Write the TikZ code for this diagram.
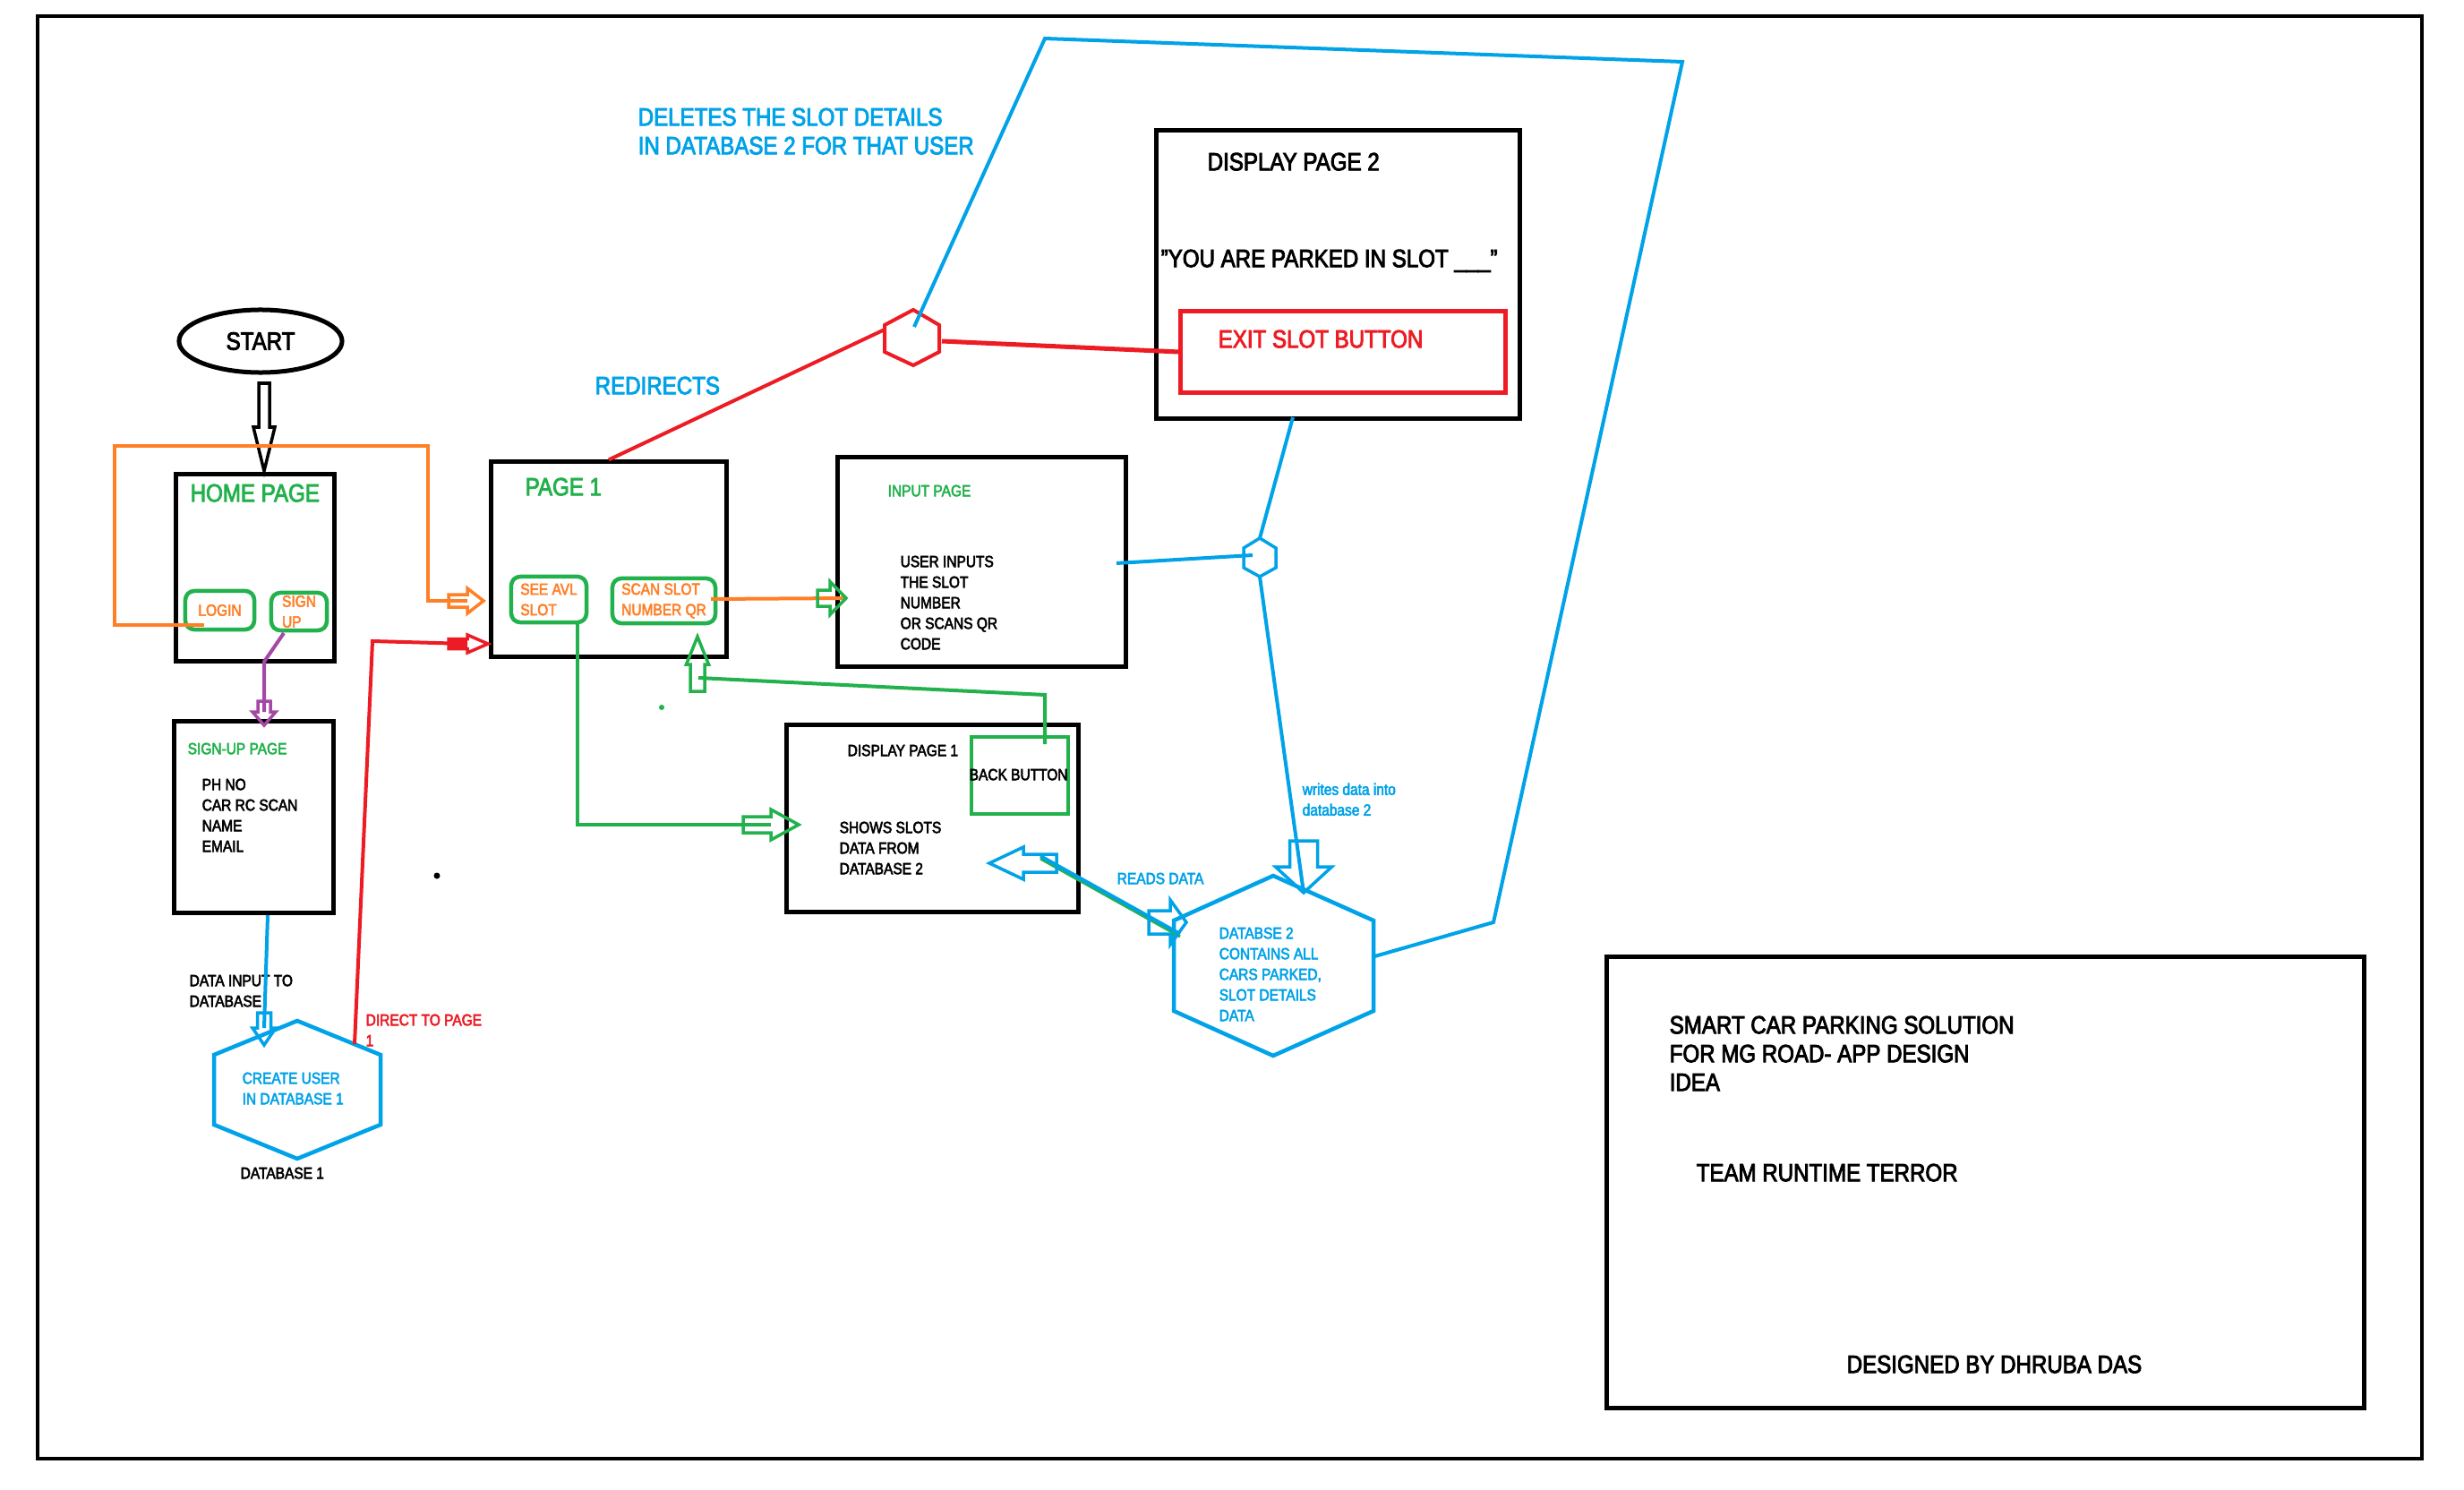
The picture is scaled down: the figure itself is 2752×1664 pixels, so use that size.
\documentclass[tikz,border=0pt]{standalone}
\usepackage{fontspec}
\setmainfont{Liberation Sans}[FakeStretch=0.86, FakeBold=3]
\usetikzlibrary{shapes.geometric,calc}
\definecolor{paintblue}{HTML}{00A2E8}
\definecolor{paintred}{HTML}{ED1C24}
\definecolor{paintgreen}{HTML}{22B14C}
\definecolor{paintorange}{HTML}{FF7F27}
\definecolor{paintpurple}{HTML}{A349A4}

\begin{document}
\begin{tikzpicture}[x=0.01cm, y=-0.01cm,
  big/.style={font=\fontsize{7.97}{9.1}\selectfont},
  small/.style={font=\fontsize{5.12}{6.54}\selectfont},
  page node/.style={draw, line width=0.05cm, inner sep=0},
  button node/.style={draw=paintgreen, line width=0.045cm, rounded corners=0.1cm, inner sep=0, align=left, text=paintorange, small},
  label node/.style={anchor=north west, inner sep=0, align=left},
  wire/.style={line width=0.04cm},
  pics/hollow arrow/.style n args={4}{code={
    \draw[pic actions, line width=0.035cm] (0,0) -- (-#2,#4) -- (-#2,#3) -- (-#1-#2,#3)
      -- (-#1-#2,-#3) -- (-#2,-#3) -- (-#2,-#4) -- cycle;
  }}]
\fill[white] (0,0) rectangle (2752,1664);
\useasboundingbox (0,0) rectangle (2752,1664);
\draw[line width=0.048cm] (42,18) rectangle (2705,1629);

\node[ellipse, draw, line width=0.05cm, minimum width=1.82cm, minimum height=0.70cm, inner sep=0, big] (start) at (291,381) {START};

\node[page node, minimum width=1.76cm, minimum height=2.08cm] (home)   at (285,634)     {};
\node[page node, minimum width=1.77cm, minimum height=2.13cm] (signup) at (283.5,912.5) {};
\node[page node, minimum width=2.62cm, minimum height=2.17cm] (page1)  at (680,624.5)   {};
\node[page node, minimum width=3.21cm, minimum height=2.33cm] (input)  at (1096.5,627.5){};
\node[page node, minimum width=3.25cm, minimum height=2.08cm] (disp1)  at (1041.5,914)  {};
\node[page node, minimum width=4.05cm, minimum height=3.21cm] (disp2)  at (1494.5,306.5){};
\node[page node, minimum width=8.45cm, minimum height=5.03cm] (title)  at (2217.5,1320.5){};

\node[button node, minimum width=0.77cm, minimum height=0.43cm] (login)   at (245.5,681.5) {LOGIN};
\node[button node, minimum width=0.62cm, minimum height=0.42cm] (signbtn) at (334,683)     {SIGN\\UP};
\node[button node, minimum width=0.84cm, minimum height=0.51cm] (seeavl)  at (613,669.5)   {SEE AVL\\SLOT};
\node[button node, minimum width=1.15cm, minimum height=0.50cm] (scanqr)  at (741.5,671)   {SCAN SLOT\\NUMBER QR};
\node[draw=paintgreen, line width=0.045cm, minimum width=1.08cm, minimum height=0.86cm, inner sep=0] (backbtn) at (1139,866) {};
\node[draw=paintred, line width=0.05cm, minimum width=3.62cm, minimum height=0.90cm, inner sep=0] (exitbtn) at (1500,393) {};

\node[label node, big, text=paintgreen] (homelbl)   at (212,540)   {HOME PAGE};
\node[label node, big, text=paintgreen] (page1lbl)  at (586,533)   {PAGE 1};
\node[label node, big, text=paintblue]  (redirlbl)  at (664,420)   {REDIRECTS};
\node[label node, big, text=paintblue]  (deletelbl) at (712,120)   {DELETES THE SLOT DETAILS\\IN DATABASE 2 FOR THAT USER};
\node[label node, big]                  (disp2lbl)  at (1348,170)  {DISPLAY PAGE 2};
\node[label node, big]                  (parkedlbl) at (1296,278)  {\symbol{34}YOU ARE PARKED IN SLOT \_\_\_\symbol{34}};
\node[label node, big, text=paintred]   (exitlbl)   at (1360,368)  {EXIT SLOT BUTTON};
\node[label node, big]                  (titlelbl)  at (1864,1134) {SMART CAR PARKING SOLUTION\\FOR MG ROAD- APP DESIGN\\IDEA};
\node[label node, big]                  (teamlbl)   at (1894,1299) {TEAM RUNTIME TERROR};
\node[label node, big]                  (authorlbl) at (2062,1513) {DESIGNED BY DHRUBA DAS};

\node[label node, small, text=paintgreen] (signuplbl) at (209,829)   {SIGN-UP PAGE};
\node[label node, small]                  (fieldslbl) at (225,869)   {PH NO\\CAR RC SCAN\\NAME\\EMAIL};
\node[label node, small]                  (dbinlbl)   at (211,1088)  {DATA INPUT TO\\DATABASE};
\node[label node, small, text=paintblue]  (createlbl) at (270,1197)  {CREATE USER\\IN DATABASE 1};
\node[label node, small]                  (db1lbl)    at (268,1303)  {DATABASE 1};
\node[label node, small, text=paintred]   (directlbl) at (408,1132)  {DIRECT TO PAGE\\1};
\node[label node, small, text=paintgreen] (inputlbl)  at (991,541)   {INPUT PAGE};
\node[label node, small]                  (inputtxt)  at (1005,620)  {USER INPUTS\\THE SLOT\\NUMBER\\OR SCANS QR\\CODE};
\node[label node, small]                  (disp1lbl)  at (946,831)   {DISPLAY PAGE 1};
\node[label node, small]                  (backlbl)   at (1082,858)  {BACK BUTTON};
\node[label node, small]                  (showtxt)   at (937,917)   {SHOWS SLOTS\\DATA FROM\\DATABASE 2};
\node[label node, small, text=paintblue]  (db2txt)    at (1361,1035) {DATABSE 2\\CONTAINS ALL\\CARS PARKED,\\SLOT DETAILS\\DATA};
\node[label node, small, text=paintblue]  (writeslbl) at (1454,874)  {writes data into\\database 2};
\node[label node, small, text=paintblue]  (readslbl)  at (1247,974)  {READS DATA};

\draw[paintblue, line width=0.045cm] (332,1140) coordinate (db1-t) -- (425,1178) coordinate (db1-ur)
  -- (425,1256) -- (332,1294) -- (239,1256) -- (239,1178) coordinate (db1-ul) -- cycle;
\draw[paintblue, line width=0.045cm] (1422,978) coordinate (db2-t) -- (1534,1028) coordinate (db2-ur)
  -- (1534,1129) coordinate (db2-lr) -- (1422,1179) -- (1311,1129) -- (1311,1028) coordinate (db2-ul) -- cycle;
\draw[paintred, line width=0.04cm] (1020,346) coordinate (rh-t) -- (1049,363) -- (1049,393)
  -- (1020,408) -- (988,393) -- (988,363) -- cycle;
\draw[paintblue, line width=0.035cm] (1407,601) coordinate (sh-t) -- (1425,612) -- (1425,634)
  -- (1407,644) coordinate (sh-b) -- (1389,634) -- (1389,612) -- cycle;

\coordinate (startTip)    at (295,526);
\coordinate (loginEnd)    at (228,698);
\coordinate (orangeTL)    at (128,498);
\coordinate (orangeTR)    at (478,498);
\coordinate (orangeTip)   at (540,671);
\coordinate (signOut)     at (317,707);
\coordinate (purpleBend)  at (295,739);
\coordinate (purpleTip)   at (295,810);
\coordinate (signupOut)   at (299,1022);
\coordinate (db1Tip)      at (295,1167);
\coordinate (db1Out)      at (396,1166);
\coordinate (redBend)     at (416,716);
\coordinate (redTip)      at (545,719);
\coordinate (seeOut)      at (645,693);
\coordinate (disp1Tip)    at (892,921);
\coordinate (scanOut)     at (794,669);
\coordinate (inputTip)    at (945,668);
\coordinate (backOut)     at (1167,831);
\coordinate (backBend)    at (1167,776);
\coordinate (backJoin)    at (780,757);
\coordinate (scanTip)     at (779,711);
\coordinate (redHexIn)    at (988,368);
\coordinate (redHexOut)   at (1052,381);
\coordinate (loopStart)   at (1021,365);
\coordinate (loopA)       at (1167,43);
\coordinate (loopB)       at (1879,69);
\coordinate (loopC)       at (1668,1030);
\coordinate (disp2Out)    at (1444,466);
\coordinate (inputOut)    at (1247,629);
\coordinate (hexIn)       at (1399,620);
\coordinate (writeTip)    at (1456,997);
\coordinate (readTip)     at (1105,964);
\coordinate (readOut)     at (1162,956);
\coordinate (readIn)      at (1318,1043);
\coordinate (db2Tip)      at (1325,1030);

\pic[draw=black, rotate=-90] at (startTip) {hollow arrow={49}{49}{6}{12}};

\draw[wire, paintorange] (loginEnd) -| (orangeTL) -- (orangeTR) |- ($(orangeTip)+(-18,0)$);
\pic[draw=paintorange] at (orangeTip) {hollow arrow={21}{18}{7}{14}};

\draw[wire, paintpurple] (signOut) -- (purpleBend) -- ($(purpleTip)+(0,-15)$);
\pic[draw=paintpurple, rotate=-90] at (purpleTip) {hollow arrow={12}{15}{7}{13}};

\draw[wire, paintblue] (signupOut) -- ($(db1Tip)+(0,-19)$);
\pic[draw=paintblue, rotate=-90] at (db1Tip) {hollow arrow={17}{19}{7.5}{13}};

\draw[wire, paintred] (db1Out) -- (redBend) -- ($(redTip)+(-23,0)$);
\draw[paintred, line width=0.11cm] ($(redTip)+(-44,0)$) -- ($(redTip)+(-23,0)$);
\pic[draw=paintred] at (redTip) {hollow arrow={21}{23}{5.5}{10}};

\draw[wire, paintgreen] (seeOut) |- ($(disp1Tip)+(-31,0)$);
\pic[draw=paintgreen] at (disp1Tip) {hollow arrow={31}{31}{9}{17}};

\draw[wire, paintorange] (scanOut) -- (inputTip);
\pic[draw=paintgreen] at (inputTip) {hollow arrow={14}{18}{9}{18.5}};

\draw[wire, paintgreen] (backOut) -- (backBend) -- (backJoin);
\pic[draw=paintgreen, rotate=90] at (scanTip) {hollow arrow={30}{31}{8}{12.5}};

\draw[wire, paintred] (page1.north) -- (redHexIn);
\draw[paintred, line width=0.05cm] (redHexOut) -- (exitbtn.west);

\draw[wire, paintblue] (loopStart) -- (loopA) -- (loopB) -- (loopC) -- ($(db2-ur)!0.4!(db2-lr)$);

\draw[wire, paintblue] (disp2Out) -- (sh-t);
\draw[wire, paintblue] (inputOut) -- (hexIn);
\draw[wire, paintblue] (sh-b) -- (writeTip);
\pic[draw=paintblue, rotate=-90] at (writeTip) {hollow arrow={29}{29}{15.5}{31.5}};

\draw[line width=0.03cm, paintgreen] ($(readOut)+(0,3)$) -- ($(readIn)+(0,3)$);
\draw[wire, paintblue] (readOut) -- (readIn);
\pic[draw=paintblue, rotate=180] at (readTip) {hollow arrow={37}{38}{10}{18}};
\pic[draw=paintblue] at (db2Tip) {hollow arrow={24}{18}{13}{25}};

\fill[paintgreen] (739,790) circle (3);
\fill[black] (488,978) circle (3.5);
\end{tikzpicture}
\end{document}
